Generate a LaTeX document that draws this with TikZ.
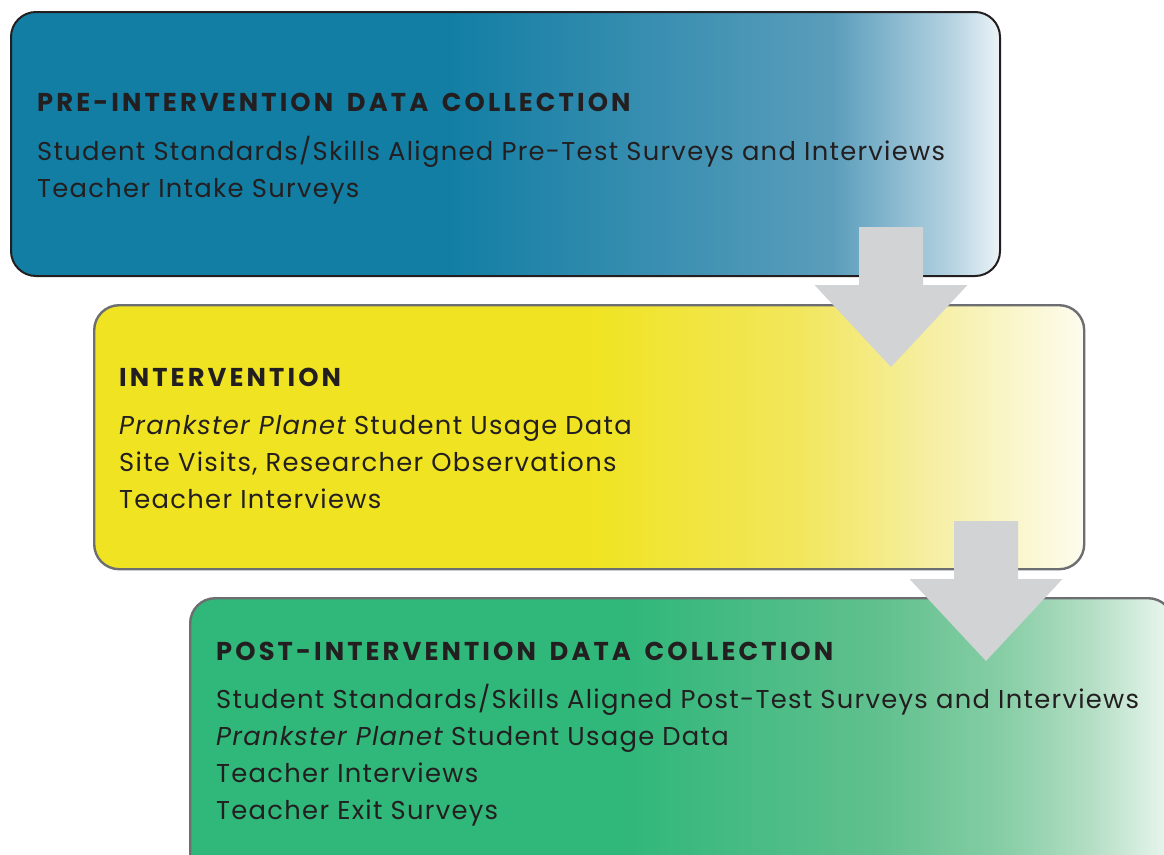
\documentclass[tikz,border=0pt]{standalone}
\usepackage{fontspec}
\setmainfont{Poppins}[LetterSpace=5.0]
\newfontfamily\headfont{Poppins}[LetterSpace=12,WordSpace=1.6]
\usetikzlibrary{calc}
\definecolor{tealA}{RGB}{18,126,164}
\definecolor{tealB}{RGB}{90,157,187}
\definecolor{tealC}{RGB}{180,210,225}
\definecolor{tealD}{RGB}{236,243,247}
\definecolor{yelA}{RGB}{240,228,34}
\definecolor{yelB}{RGB}{242,230,92}
\definecolor{yelC}{RGB}{246,239,165}
\definecolor{yelD}{RGB}{253,252,238}
\definecolor{grnA}{RGB}{48,183,122}
\definecolor{grnB}{RGB}{96,192,142}
\definecolor{grnC}{RGB}{136,206,166}
\definecolor{grnD}{RGB}{182,223,198}
\definecolor{grnE}{RGB}{236,247,240}
\definecolor{arrowgray}{RGB}{209,211,212}
\definecolor{inkc}{RGB}{35,31,32}
\definecolor{edgegray}{RGB}{109,110,113}
\pgfdeclarehorizontalshading{tealfade}{100bp}{color(0bp)=(tealA); color(47bp)=(tealA); color(66.5bp)=(tealB); color(72.5bp)=(tealC); color(75bp)=(tealD); color(100bp)=(tealD)}
\pgfdeclarehorizontalshading{yelfade}{100bp}{color(0bp)=(yelA); color(50bp)=(yelA); color(60.5bp)=(yelB); color(67.5bp)=(yelC); color(75bp)=(yelD); color(100bp)=(yelD)}
\pgfdeclarehorizontalshading{grnfade}{100bp}{color(0bp)=(grnA); color(47bp)=(grnA); color(60bp)=(grnB); color(66.5bp)=(grnC); color(71bp)=(grnD); color(75bp)=(grnE); color(100bp)=(grnE)}
\tikzset{
  panel/.style={rounded corners=25pt, anchor=north west, inner sep=0pt},
  headtxt/.style={anchor=base west, inner sep=0pt, text=inkc,
    font=\headfont\fontsize{25.8}{30}\selectfont\bfseries},
  bodytxt/.style={anchor=base west, inner sep=0pt, text=inkc,
    font=\fontsize{25.8}{30}\selectfont},
  downarrow/.pic={\fill[arrowgray] (-32,0) -- (32,0) -- (32,58) -- (76.5,58) -- (0,140) -- (-76.5,58) -- (-32,58) -- cycle;}
}
\begin{document}
\begin{tikzpicture}[x=1pt,y=-1pt]
\useasboundingbox (0,0) rectangle (1164,854);
\clip (0,0) rectangle (1164,854);
% panels
\node[panel, draw=inkc, line width=2pt, shading=tealfade, minimum width=989pt, minimum height=264pt] (pre) at (10,11) {};
\node[panel, draw=edgegray, line width=2.4pt, shading=yelfade, minimum width=990pt, minimum height=264pt] (mid) at (93,304) {};
\node[panel, draw=edgegray, line width=2.4pt, shading=grnfade, minimum width=983pt, minimum height=290pt] (post) at (189,597) {};
% arrows
\coordinate (a1) at (891,227);
\coordinate (a2) at (986,521);
\pic at (a1) {downarrow};
\pic at (a2) {downarrow};
% texts box 1
\node[headtxt] (h1) at (37,111) {PRE-INTERVENTION DATA COLLECTION};
\node[bodytxt] (t11) at (37,160) {Student Standards/Skills Aligned Pre-Test Surveys and Interviews};
\node[bodytxt] (t12) at (37,197) {Teacher Intake Surveys};
% texts box 2
\node[headtxt] (h2) at (119,386) {INTERVENTION};
\node[bodytxt] (t21) at (119,434) {\itshape Prankster Planet\upshape\ Student Usage Data};
\node[bodytxt] (t22) at (119,471) {Site Visits, Researcher Observations};
\node[bodytxt] (t23) at (119,508) {Teacher Interviews};
% texts box 3
\node[headtxt] (h3) at (216,660) {POST-INTERVENTION DATA COLLECTION};
\node[bodytxt] (t31) at (216,708) {Student Standards/Skills Aligned Post-Test Surveys and Interviews};
\node[bodytxt] (t32) at (216,745) {\itshape Prankster Planet\upshape\ Student Usage Data};
\node[bodytxt] (t33) at (216,782) {Teacher Interviews};
\node[bodytxt] (t34) at (216,819) {Teacher Exit Surveys};
\end{tikzpicture}
\end{document}
